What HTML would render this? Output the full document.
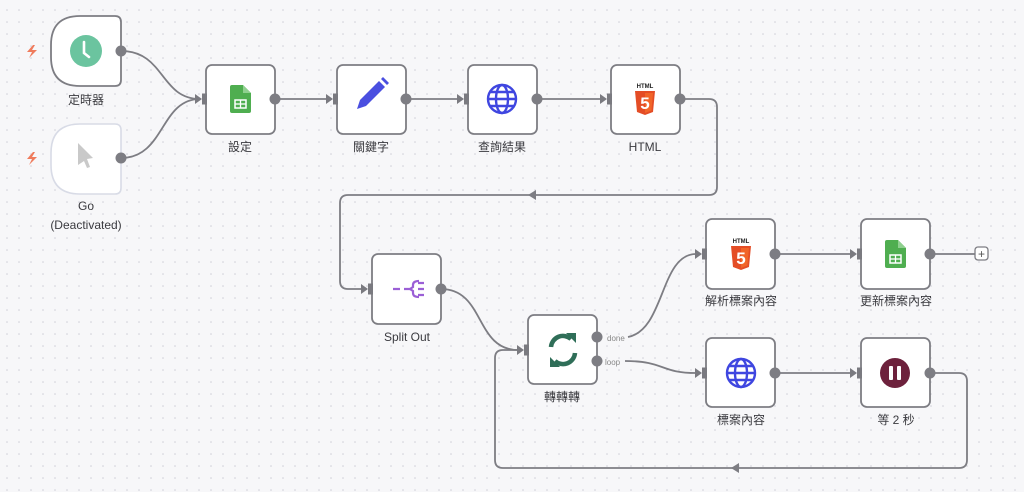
<!DOCTYPE html>
<html><head><meta charset="utf-8"><style>
html,body{margin:0;padding:0;width:1024px;height:492px;overflow:hidden;background:#f7f7f9;}
svg{display:block}
text{font-family:"Liberation Sans","Noto Sans CJK TC",sans-serif;fill:#3a3a3f;font-size:12px;}
</style></head><body>
<svg width="1024" height="492" viewBox="0 0 1024 492" xmlns="http://www.w3.org/2000/svg">
<defs>
<pattern id="dots" x="1" y="4" width="12" height="12" patternUnits="userSpaceOnUse"><circle cx="6" cy="6" r="0.8" fill="#cfcfd8"/></pattern>
<g id="inport"><path d="M-11,-5 L-4,0 L-11,5 Z" fill="#7a7a80"/><rect x="-4" y="-5.5" width="5" height="11" fill="#7a7a80"/></g>
<g id="sheet"><path d="M-8,-14 H3 L11,-6 V12 Q11,14 9,14 H-8 Q-10,14 -10,12 V-12 Q-10,-14 -8,-14Z" fill="#4fae50"/><path d="M3,-14 V-6 H11Z" fill="#8fd08f"/><rect x="-5" y="1" width="11" height="8" fill="none" stroke="#fff" stroke-width="1.5"/><line x1="-5" y1="5" x2="6" y2="5" stroke="#fff" stroke-width="1.3"/><line x1="0.5" y1="1" x2="0.5" y2="9" stroke="#fff" stroke-width="1.3"/></g>
<g id="globe" fill="none" stroke="#3f46e0" stroke-width="2.4"><circle r="14"/><ellipse rx="6" ry="14"/><line x1="-14" y1="0" x2="14" y2="0"/><path d="M-12,-7 H12 M-12,7 H12"/></g>
<g id="html5"><text x="0" y="-13" text-anchor="middle" style="font-size:6px;font-weight:bold;fill:#222">HTML</text><path d="M-10,-10 H10 L8,11 L0,14 L-8,11 Z" fill="#e44d26"/><path d="M0,-8 H8 L6.5,9.5 L0,12Z" fill="#f16529"/><text x="0" y="8" text-anchor="middle" style="font-size:17px;font-weight:bold;fill:#fff">5</text></g>
</defs>
<rect width="1024" height="492" fill="url(#dots)"/>

<g fill="none" stroke="#7d7d83" stroke-width="1.8">
<path d="M121,51 C165,51 160,99 200,99"/>
<path d="M121,158 C165,158 160,99 200,99"/>
<path d="M275,99 H327"/><path d="M406,99 H458"/><path d="M537,99 H601"/>
<path d="M680,99 H709 Q717,99 717,107 V187 Q717,195 709,195 H348 Q340,195 340,203 V281 Q340,289 348,289 H362"/>
<path d="M441,289 C485,289 475,350 518,350"/>
<path d="M628,337 C665,330 660,254 696,254"/>
<path d="M625,361 C665,361 660,373 696,373"/>
<path d="M775,254 H851"/><path d="M930,254 H975"/>
<path d="M775,373 H851"/>
<path d="M930,373 H959 Q967,373 967,381 V460 Q967,468 959,468 H503 Q495,468 495,460 V358 Q495,350 503,350 H518"/>
</g>
<path d="M528,195 L536,190 L536,200Z" fill="#7d7d83"/>
<path d="M731,468 L739,463 L739,473Z" fill="#7d7d83"/>
<rect x="975" y="247" width="13" height="13" rx="3" fill="#fff" stroke="#7d7d83" stroke-width="1.3"/>
<text x="981.5" y="258" text-anchor="middle" style="font-size:12px;fill:#555">+</text>

<!-- trigger nodes -->
<path d="M80,16 H115 Q121,16 121,22 V80 Q121,86 115,86 H80 Q51,86 51,57 V45 Q51,16 80,16Z" fill="#fff" stroke="#7d7d83" stroke-width="1.8"/>
<circle cx="86" cy="51" r="16" fill="#6bc49f"/><path d="M84,42 V53 L89,57" fill="none" stroke="#fff" stroke-width="2.6" stroke-linecap="round"/>
<path d="M80,124 H115 Q121,124 121,130 V188 Q121,194 115,194 H80 Q51,194 51,165 V153 Q51,124 80,124Z" fill="#fff" stroke="#d8dbe6" stroke-width="1.6"/>
<path d="M78,143 L93,158 L87,159 L90,167 L87,168 L84,161 L78,165Z" fill="#c9c9c9"/>
<path d="M33,45 L27,52 H32 L29,58 L37,50 H32 L35,45Z" fill="#ef7b5c"/>
<path d="M33,152 L27,159 H32 L29,165 L37,157 H32 L35,152Z" fill="#ef7b5c"/>
<circle cx="121" cy="51" r="5.5" fill="#7d7d83"/><circle cx="121" cy="158" r="5.5" fill="#7d7d83"/>
<text x="86" y="104" text-anchor="middle">定時器</text>
<text x="86" y="210" text-anchor="middle">Go</text>
<text x="86" y="229" text-anchor="middle">(Deactivated)</text>

<!-- generic nodes -->
<g fill="#fff" stroke="#7d7d83" stroke-width="1.8">
<rect x="206" y="65" width="69" height="69" rx="6"/>
<rect x="337" y="65" width="69" height="69" rx="6"/>
<rect x="468" y="65" width="69" height="69" rx="6"/>
<rect x="611" y="65" width="69" height="69" rx="6"/>
<rect x="372" y="254" width="69" height="70" rx="6"/>
<rect x="528" y="315" width="69" height="69" rx="6"/>
<rect x="706" y="219" width="69" height="70" rx="6"/>
<rect x="861" y="219" width="69" height="70" rx="6"/>
<rect x="706" y="338" width="69" height="69" rx="6"/>
<rect x="861" y="338" width="69" height="69" rx="6"/>
</g>
<use href="#inport" x="206" y="99"/><use href="#inport" x="337" y="99"/><use href="#inport" x="468" y="99"/><use href="#inport" x="611" y="99"/>
<use href="#inport" x="372" y="289"/><use href="#inport" x="528" y="350"/><use href="#inport" x="706" y="254"/><use href="#inport" x="861" y="254"/><use href="#inport" x="706" y="373"/><use href="#inport" x="861" y="373"/>
<g fill="#7d7d83">
<circle cx="275" cy="99" r="5.5"/><circle cx="406" cy="99" r="5.5"/><circle cx="537" cy="99" r="5.5"/><circle cx="680" cy="99" r="5.5"/>
<circle cx="441" cy="289" r="5.5"/><circle cx="597" cy="337" r="5.5"/><circle cx="597" cy="361" r="5.5"/>
<circle cx="775" cy="254" r="5.5"/><circle cx="930" cy="254" r="5.5"/><circle cx="775" cy="373" r="5.5"/><circle cx="930" cy="373" r="5.5"/>
</g>
<text x="607" y="341" style="font-size:8px;fill:#888">done</text>
<text x="605" y="365" style="font-size:8px;fill:#888">loop</text>

<!-- icons -->
<use href="#sheet" x="240" y="99"/>
<use href="#sheet" x="895" y="254"/>
<path d="M357,109 L360,100 L379,81 L385,87 L366,106 Z" fill="#4a4fe0"/><path d="M381,79 L383,77 L389,83 L387,85Z" fill="#4a4fe0"/>
<use href="#globe" x="502" y="99"/>
<use href="#globe" x="741" y="373"/>
<use href="#html5" x="645" y="101"/>
<use href="#html5" x="741" y="256"/>
<g fill="none" stroke="#9b5fd6" stroke-width="2.2"><path d="M393,289 H400 M404,289 H410"/><path d="M419,281 Q413,281 413,285 V287 L410,289 L413,291 V293 Q413,297 419,297"/><path d="M418,283 H424 M418,289 H424 M418,295 H424"/></g>
<g fill="none" stroke="#2f6e58" stroke-width="4.5"><path d="M551,347 A12,12 0 0 1 571,339"/><path d="M575,353 A12,12 0 0 1 555,361"/></g>
<path d="M566,333 L576,333 L576,343Z" fill="#2f6e58"/><path d="M560,367 L550,367 L550,357Z" fill="#2f6e58"/>
<circle cx="895" cy="373" r="15" fill="#6d213c"/><rect x="889" y="366" width="4" height="14" rx="1" fill="#fff"/><rect x="897" y="366" width="4" height="14" rx="1" fill="#fff"/>

<!-- labels -->
<text x="240" y="151" text-anchor="middle">設定</text>
<text x="371" y="151" text-anchor="middle">關鍵字</text>
<text x="502" y="151" text-anchor="middle">查詢結果</text>
<text x="645" y="151" text-anchor="middle">HTML</text>
<text x="407" y="341" text-anchor="middle">Split Out</text>
<text x="562" y="401" text-anchor="middle">轉轉轉</text>
<text x="741" y="305" text-anchor="middle">解析標案內容</text>
<text x="896" y="305" text-anchor="middle">更新標案內容</text>
<text x="741" y="424" text-anchor="middle">標案內容</text>
<text x="896" y="424" text-anchor="middle">等 2 秒</text>
</svg>
</body></html>
